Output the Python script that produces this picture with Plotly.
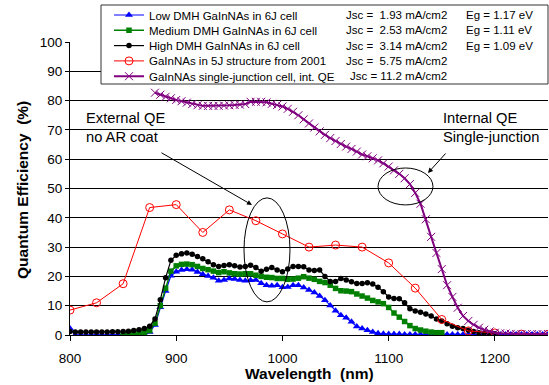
import plotly.graph_objects as go

# ---------------- data ----------------
wl_5nm_800 = list(range(800, 1255, 5))          # 800..1250
wl_black = list(range(800, 1205, 5))            # 800..1200
wl_green = list(range(850, 1155, 5))            # 850..1150
wl_red = list(range(800, 1275, 25))             # 800..1250
wl_purple = list(range(880, 1255, 5))           # 880..1250

qe_low = [2.2, 0, 0, 0, 0, 0, 0, 0, 0, 0, 0, 0, 0, 0.1, 0.3, 1.0, 3.4, 9.5, 15, 20.2,
          21.6, 22.2, 22.4, 22.3, 21.5, 20.7, 20.1, 19.5, 18.5, 18.8, 19.3, 19.1, 18.8, 18.5, 18.7,
          18.8, 17.7, 17.0, 16.8, 17.0, 16.3, 16.4, 17.0, 17.0, 16.2, 15.4, 14.5, 13.3, 11.9, 10.1,
          8.3, 6.7, 5.9, 4.5, 2.9, 2.2, 1.6, 1.0, 0.6, 0.4, 0.3, 0.3, 0.3, 0.2, 0.2, 0.2, 0.2, 0.2,
          0.2, 0.2, 0.2, 0.2, 0.2, 0.2, 0.2, 0.2, 0.2, 0.2, 0.2, 0.2, 0.2, 0.2, 0.2, 0.2, 0.2, 0.2,
          0.2, 0.2, 0.2, 0.2, 0.2]

qe_medium = [0.4, 0.4, 0.5, 0.6, 0.8, 1.5, 4.0, 10.0, 16.0, 21.8, 23.6, 24.1, 24.2, 24.0, 23.4,
             22.7, 22.3, 21.8, 21.3, 21.6, 21.2, 20.9, 20.8, 20.9, 20.9, 20.4, 20.0, 19.7, 19.6,
             19.3, 19.3, 19.0, 19.1, 19.4, 19.9, 19.4, 19.0, 18.3, 17.9, 17.0, 15.9, 15.1, 15.0,
             14.8, 14.0, 13.3, 12.6, 11.8, 11.3, 10.7, 9.4, 7.5, 6.1, 4.6, 3.2, 2.2, 1.7, 1.3, 1.0,
             0.8, 0.8]

qe_high = [1.2, 1.0, 1.0, 1.0, 1.0, 1.0, 1.0, 1.0, 1.1, 1.1, 1.2, 1.3, 1.5, 1.8, 2.2, 3.0, 5.5,
           12.0, 19.5, 25.5, 27.2, 27.7, 28.0, 27.6, 26.8, 26.0, 25.0, 24.0, 23.4, 23.7, 24.0, 23.6,
           23.2, 23.4, 23.8, 23.0, 21.8, 22.4, 23.0, 22.2, 21.6, 22.5, 23.4, 23.4, 23.3, 22.2, 22.0,
           22.2, 20.0, 18.3, 18.3, 19.3, 18.8, 18.2, 17.6, 17.6, 17.8, 17.4, 16.3, 14.8, 13.0, 12.5,
           12.4, 11.0, 9.0, 8.2, 7.8, 7.2, 6.5, 5.5, 4.8, 3.8, 3.0, 2.5, 2.2, 1.6, 1.2, 0.8, 0.6,
           0.5, 0.4]

qe_5j = [8.5, 11, 17.5, 43.5, 44.5, 35, 42.7, 39, 34.5, 30, 30.7, 30, 24.6, 16, 5.3, 1.4, 0.7,
         0.3, 0.2]

qe_sj = [82.7, 82.0, 81.3, 80.8, 80.2, 79.8, 79.3, 78.8, 78.4, 78.2, 78.2, 78.2, 78.2, 78.3, 78.4,
         78.5, 78.6, 78.8, 79.6, 79.6, 79.6, 79.4, 78.9, 78.5, 78.0, 77.2, 76.2, 75.0, 73.6, 72.2,
         70.8, 69.5, 68.3, 67.2, 66.2, 65.2, 64.3, 63.5, 62.6, 61.6, 61.0, 60.3, 59.6, 58.6, 57.5,
         56.2, 55.0, 53.5, 51.5, 48.5, 44.8, 39.5, 33.5, 28.0, 22.5, 17.0, 13.0, 9.3, 6.5, 4.8,
         3.5, 2.5, 1.8, 1.2, 0.8, 0.6, 0.5, 0.4, 0.3, 0.3, 0.3, 0.3, 0.3, 0.3, 0.3]

series_names = ["Low DMH GaInNAs in 6J cell",
                "Medium DMH GaInNAs in 6J cell",
                "High DMH GaInNAs in 6J cell",
                "GaInNAs in 5J structure from 2001",
                "GaInNAs single-junction cell, int. QE"]
jsc_labels = ["Jsc =  1.93 mA/cm2", "Jsc =  2.53 mA/cm2", "Jsc =  3.14 mA/cm2",
              "Jsc =  5.75 mA/cm2", "Jsc = 11.2 mA/cm2"]
eg_labels = ["Eg = 1.17 eV", "Eg = 1.11 eV", "Eg = 1.09 eV", "", ""]

x_ticks = [800, 900, 1000, 1100, 1200]
y_ticks = list(range(0, 101, 10))

# ---------------- layout helpers ----------------
W, H = 549, 385
ML, MR, MT, MB = 70, 1, 42, 50
PW, PH = W - ML - MR, H - MT - MB
FONT = "Liberation Sans, Arial, sans-serif"


def pxx(x):
    return (x - ML) / PW


def pxy(y):
    return (H - MB - y) / PH


fig = go.Figure()

styles = [
    dict(color="#0000FF", symbol="triangle-up", size=7, lw=1.2, mlw=0),
    dict(color="#008000", symbol="square", size=5.5, lw=1.5, mlw=0),
    dict(color="#000000", symbol="circle", size=5.5, lw=1.2, mlw=0),
    dict(color="#FF0000", symbol="circle-open", size=8, lw=1, mlw=1),
    dict(color="#800080", symbol="x-thin", size=8, lw=2, mlw=1),
]
xs = [wl_5nm_800, wl_green, wl_black, wl_red, wl_purple]
ys = [qe_low, qe_medium, qe_high, qe_5j, qe_sj]
legend_ids = ["legend", "legend2", "legend3", "legend4", "legend5"]

for i in range(5):
    s = styles[i]
    fig.add_trace(go.Scatter(
        x=xs[i], y=ys[i], mode="lines+markers", name=series_names[i],
        legend=legend_ids[i],
        line=dict(color=s["color"], width=s["lw"]),
        marker=dict(symbol=s["symbol"], size=s["size"], color=s["color"],
                    line=dict(color=s["color"], width=s["mlw"])),
    ))

row_y = [15, 30.3, 45.6, 60.9, 76.2]
legend_layouts = {}
for i, lid in enumerate(legend_ids):
    legend_layouts[lid] = dict(
        x=pxx(109), y=pxy(row_y[i]), xanchor="left", yanchor="middle",
        bgcolor="rgba(0,0,0,0)", borderwidth=0,
        font=dict(family=FONT, size=11.5, color="black"),
    )

annotations = []
for i in range(5):
    annotations.append(dict(xref="paper", yref="paper", x=pxx(449), y=pxy(row_y[i]),
                            xanchor="right", yanchor="middle", showarrow=False,
                            text=jsc_labels[i],
                            font=dict(family=FONT, size=11.5, color="black")))
    if eg_labels[i]:
        annotations.append(dict(xref="paper", yref="paper", x=pxx(464), y=pxy(row_y[i]),
                                xanchor="left", yanchor="middle", showarrow=False,
                                text=eg_labels[i],
                                font=dict(family=FONT, size=11.5, color="black")))

# text notes
annotations += [
    dict(xref="paper", yref="paper", x=pxx(84), y=pxy(127.5), xanchor="left", yanchor="middle",
         align="left", showarrow=False, text="External QE<br>no AR coat",
         font=dict(family=FONT, size=14.7, color="black")),
    dict(xref="paper", yref="paper", x=pxx(441), y=pxy(127.5), xanchor="left", yanchor="middle",
         align="left", showarrow=False, text="Internal QE<br>Single-junction",
         font=dict(family=FONT, size=14.7, color="black")),
    # arrows
    dict(xref="x", yref="y", x=971.3, y=44.4, ax=-92, ay=-53, text="", showarrow=True,
         arrowhead=2, arrowsize=1, arrowwidth=1, arrowcolor="black"),
    dict(xref="x", yref="y", x=1137, y=55.3, ax=19, ay=-21, text="", showarrow=True,
         arrowhead=2, arrowsize=1, arrowwidth=1, arrowcolor="black"),
    # axis titles
    dict(xref="paper", yref="paper", x=pxx(309), y=pxy(373), xanchor="center", yanchor="middle",
         showarrow=False, text="<b>Wavelength  (nm)</b>",
         font=dict(family=FONT, size=15.5, color="black")),
    dict(xref="paper", yref="paper", x=pxx(22), y=pxy(190), xanchor="center", yanchor="middle",
         showarrow=False, text="<b>Quantum Efficiency  (%)</b>", textangle=-90,
         font=dict(family=FONT, size=15.5, color="black")),
]

shapes = [
    dict(type="circle", xref="x", yref="y", x0=963.8, x1=1007.1, y0=11.3, y1=46.8,
         line=dict(color="black", width=1)),
    dict(type="circle", xref="x", yref="y", x0=1090, x1=1141.7, y0=44.4, y1=57,
         line=dict(color="black", width=1)),
    dict(type="rect", xref="paper", yref="paper", x0=pxx(101), x1=pxx(548),
         y0=pxy(84), y1=pxy(5), fillcolor="white", layer="above",
         line=dict(color="#333333", width=1)),
]

fig.update_layout(
    width=W, height=H,
    margin=dict(l=ML, r=MR, t=MT, b=MB, pad=0),
    paper_bgcolor="white", plot_bgcolor="white",
    font=dict(family=FONT, size=13, color="black"),
    showlegend=True,
    annotations=annotations,
    shapes=shapes,
    xaxis=dict(range=[800, 1250], tickvals=x_ticks, ticks="outside", ticklen=5,
               tickcolor="black", showline=True, linecolor="black", linewidth=1,
               showgrid=False, zeroline=False, ticklabelstandoff=6,
               tickfont=dict(family=FONT, size=13.5, color="black")),
    yaxis=dict(range=[0, 100], tickvals=y_ticks, ticks="outside", ticklen=4,
               tickcolor="black", showline=True, linecolor="black", linewidth=1,
               showgrid=True, gridcolor="black", gridwidth=1, zeroline=False,
               tickfont=dict(family=FONT, size=13.5, color="black")),
    **legend_layouts,
)

fig.write_html("out.html")
